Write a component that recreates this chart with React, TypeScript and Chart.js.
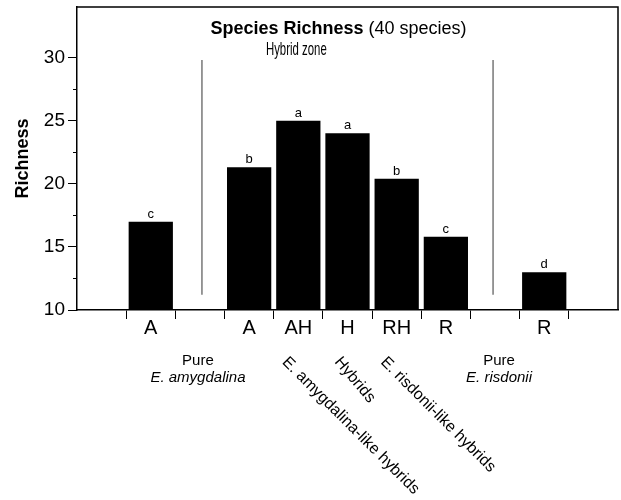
import React, { useEffect, useRef } from 'react';
import { Chart, registerables } from 'chart.js';

Chart.register(...registerables);

// ---- data ----
const categories = ['', 'A', '', 'A', 'AH', 'H', 'RH', 'R', '', 'R', ''];
const richness = [null, 17.0, null, 21.3, 25.0, 24.0, 20.4, 15.8, null, 13.0, null];
const significance = ['', 'c', '', 'b', 'a', 'a', 'b', 'c', '', 'd', ''];
const yMajorTicks = [10, 15, 20, 25, 30];
const yMinorTicks = [12.5, 17.5, 22.5, 27.5];
const separatorIndex = [2, 8];
const pureIndex = [2, 8];
const pureSpecies = ['E. amygdalina', 'E. risdonii'];
const rotatedIndex = [4, 5, 6];
const rotatedText = ['E. amygdalina-like hybrids', 'Hybrids', 'E. risdonii-like hybrids'];
const rotatedAngle = [45, 50, 45];
const titleBold = 'Species Richness';
const titleNormal = ' (40 species)';
const zoneLabel = 'Hybrid zone';
const yTitle = 'Richness';

const FONT = "'Liberation Sans', Arial, Helvetica, sans-serif";

const decorPlugin = {
  id: 'decor',
  afterDraw(chart: any) {
    const { ctx, chartArea, scales } = chart;
    const { left, right, top, bottom } = chartArea;
    const x = scales.x;
    const y = scales.y;
    ctx.save();
    // top & right frame
    ctx.strokeStyle = '#000';
    ctx.lineWidth = 1.5;
    ctx.beginPath();
    ctx.moveTo(left, top);
    ctx.lineTo(right, top);
    ctx.lineTo(right, bottom);
    ctx.stroke();

    // minor y ticks
    ctx.lineWidth = 1;
    yMinorTicks.forEach((v) => {
      const py = Math.round(y.getPixelForValue(v)) + 0.5;
      ctx.beginPath();
      ctx.moveTo(left - 4, py);
      ctx.lineTo(left, py);
      ctx.stroke();
    });

    // separators
    ctx.strokeStyle = '#555';
    ctx.lineWidth = 1.2;
    separatorIndex.forEach((i, k) => {
      const px = x.getPixelForValue(i) + (k === 0 ? 2 : -2);
      ctx.beginPath();
      ctx.moveTo(px, y.getPixelForValue(29.8));
      ctx.lineTo(px, y.getPixelForValue(11.2));
      ctx.stroke();
    });

    // significance letters
    ctx.fillStyle = '#000';
    ctx.font = `13px ${FONT}`;
    ctx.textAlign = 'center';
    ctx.textBaseline = 'alphabetic';
    const meta = chart.getDatasetMeta(0);
    meta.data.forEach((bar: any, i: number) => {
      if (richness[i] == null) return;
      ctx.fillText(significance[i], bar.x, bar.y - 4);
    });

    // title
    const cx = (left + right) / 2 - 9;
    ctx.textBaseline = 'middle';
    ctx.textAlign = 'left';
    ctx.font = `bold 18px ${FONT}`;
    const wb = ctx.measureText(titleBold).width;
    ctx.font = `18px ${FONT}`;
    const wn = ctx.measureText(titleNormal).width;
    const sx = cx - (wb + wn) / 2;
    ctx.font = `bold 18px ${FONT}`;
    ctx.fillText(titleBold, sx, top + 22);
    ctx.font = `18px ${FONT}`;
    ctx.fillText(titleNormal, sx + wb, top + 22);

    // Hybrid zone (condensed)
    ctx.save();
    ctx.translate(x.getPixelForValue(4) - 2, top + 43);
    ctx.scale(0.6, 1);
    ctx.textAlign = 'center';
    ctx.font = `19px ${FONT}`;
    ctx.fillText(zoneLabel, 0, 0);
    ctx.restore();

    // Pure species labels
    ctx.textAlign = 'center';
    ctx.textBaseline = 'middle';
    pureIndex.forEach((i, k) => {
      const px = x.getPixelForValue(i) + (k === 0 ? -2 : 4);
      ctx.font = `15px ${FONT}`;
      ctx.fillText('Pure', px, bottom + 51);
      ctx.font = `italic 15px ${FONT}`;
      ctx.fillText(pureSpecies[k], px, bottom + 68);
    });

    // rotated hybrid class labels
    ctx.font = `16px ${FONT}`;
    ctx.textAlign = 'left';
    ctx.textBaseline = 'top';
    rotatedIndex.forEach((i, k) => {
      const px = x.getPixelForValue(i) - (k === 1 ? 4 : 8);
      ctx.save();
      ctx.translate(px, bottom + 44);
      ctx.rotate((rotatedAngle[k] * Math.PI) / 180);
      ctx.fillText(rotatedText[k], 0, 0);
      ctx.restore();
    });

    ctx.restore();
  },
};

export default function App() {
  const canvasRef = useRef<HTMLCanvasElement | null>(null);

  useEffect(() => {
    const canvas = canvasRef.current;
    if (!canvas) return;
    const chart = new Chart(canvas, {
      type: 'bar',
      data: {
        labels: categories,
        datasets: [
          {
            data: richness as any,
            backgroundColor: '#000',
            borderWidth: 0,
            barPercentage: 0.9,
            categoryPercentage: 1.0,
          },
        ],
      },
      options: {
        responsive: false,
        animation: false,
        devicePixelRatio: 1,
        layout: { padding: { top: 7, right: 3, left: 0, bottom: 0 } },
        plugins: {
          legend: { display: false },
          tooltip: { enabled: false },
          title: { display: false },
        },
        scales: {
          x: {
            type: 'category',
            offset: true,
            afterFit: (s: any) => {
              s.height = 190;
              s.paddingLeft = 0;
              s.paddingRight = 0;
            },
            border: { display: true, color: '#000', width: 1.5 },
            grid: {
              display: true,
              drawOnChartArea: false,
              drawTicks: true,
              offset: true,
              tickLength: 9,
              color: (c: any) =>
                c.type === 'tick' && c.index > 0 ? '#000' : 'rgba(0,0,0,0)',
              lineWidth: 1,
            },
            ticks: {
              color: '#000',
              font: { family: FONT, size: 20 },
              padding: -3,
              autoSkip: false,
              maxRotation: 0,
            },
          },
          y: {
            min: 10,
            max: 34,
            afterFit: (s: any) => {
              s.width = 77;
              s.paddingTop = 0;
              s.paddingBottom = 0;
            },
            afterBuildTicks: (s: any) => {
              s.ticks = yMajorTicks.map((v) => ({ value: v }));
            },
            border: { display: true, color: '#000', width: 1.5 },
            grid: {
              display: true,
              drawOnChartArea: false,
              drawTicks: true,
              tickLength: 9,
              color: '#000',
              lineWidth: 1,
            },
            ticks: {
              color: '#000',
              font: { family: FONT, size: 19 },
              padding: 3,
            },
            title: {
              display: true,
              text: yTitle,
              color: '#000',
              font: { family: FONT, size: 18, weight: 'bold' },
              padding: { top: 12, bottom: 0 },
            },
          },
        },
      },
      plugins: [decorPlugin],
    });
    return () => chart.destroy();
  }, []);

  return (
    <div style={{ position: 'fixed', left: 0, top: 0, width: 621, height: 500, background: '#fff' }}>
      <canvas ref={canvasRef} width={621} height={500} />
    </div>
  );
}
